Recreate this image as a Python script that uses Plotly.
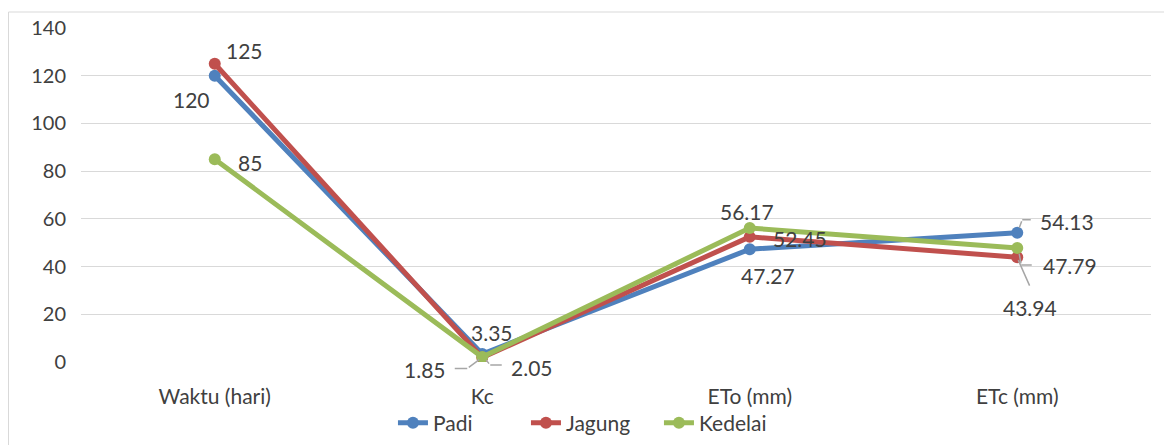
import plotly.graph_objects as go

categories = ["Waktu (hari)", "Kc", "ETo (mm)", "ETc (mm)"]
padi = [120, 3.35, 47.27, 54.13]
jagung = [125, 1.85, 52.45, 43.94]
kedelai = [85, 2.05, 56.17, 47.79]
y_ticks = [0, 20, 40, 60, 80, 100, 120, 140]

series = [
    ("Padi", padi, "#4F81BD"),
    ("Jagung", jagung, "#C0504D"),
    ("Kedelai", kedelai, "#9BBB59"),
]

# label offsets in pixels per point: (xshift, yshift, leader polyline in pixel offsets, y up)
label_style = {
    "Padi": [(-23, -24, None), (10, 22, None), (18, -26, None),
             (50, 11, [(2, 5), (5, 13), (15, 13)])],
    "Jagung": [(30, 13, None), (-57, -12, [(-3, -2), (-15, -11), (-29, -11)]),
               (50, -2, None), (13, -50, [(1, -3), (13, -30)])],
    "Kedelai": [(35, -3, None), (50, -10, [(4, -3), (8, -8), (21, -8)]),
                (-3, 16, None), (53, -18, [(2, -6), (4, -17), (16, -17)])],
}

FONT = "Lato, Open Sans, sans-serif"
TXT = "#404040"
FS = 21

# page body has an 8px default margin; figure sized to fit the window
W, H = 1164, 437
fig = go.Figure()
for name, vals, col in series:
    fig.add_trace(go.Scatter(
        x=categories, y=vals, name=name, mode="lines+markers",
        line=dict(color=col, width=5),
        marker=dict(color=col, size=12),
    ))

annotations = []
for name, vals, col in series:
    for i, v in enumerate(vals):
        xs, ys, poly = label_style[name][i]
        annotations.append(dict(x=categories[i], y=v, text=f"{v:g}", showarrow=False,
                                xshift=xs, yshift=ys,
                                font=dict(family=FONT, size=FS, color=TXT)))
        if poly:
            for (x0, y0), (x1, y1) in zip(poly[:-1], poly[1:]):
                annotations.append(dict(x=categories[i], y=v, text="", showarrow=True,
                                        arrowhead=0, arrowwidth=1.5, arrowcolor="#A6A6A6",
                                        standoff=0, startstandoff=0,
                                        xshift=x0, yshift=y0,
                                        ax=x1 - x0, ay=-(y1 - y0)))

ML, MR, MT, MB = 73, 21, 20, 83
pw = W - ML - MR
ph = H - MT - MB
shapes = [dict(type="rect", xref="paper", yref="paper",
               x0=(0.5 - ML) / pw, x1=(W + 20 - ML) / pw,
               y0=-(MB + 20) / ph, y1=(ph + MT - 4) / ph,
               line=dict(color="#D9D9D9", width=1), layer="below")]

fig.update_layout(
    width=W, height=H,
    margin=dict(l=ML, r=MR, t=MT, b=MB, autoexpand=False),
    paper_bgcolor="white", plot_bgcolor="white",
    font=dict(family=FONT, size=FS, color=TXT),
    showlegend=True,
    legend=dict(orientation="h", x=0.478, xanchor="center",
                yref="container", y=1 - (423 - 8) / H, yanchor="middle",
                bgcolor="rgba(0,0,0,0)", entrywidth=88,
                font=dict(family=FONT, size=FS, color=TXT), tracegroupgap=0),
    annotations=annotations,
    shapes=shapes,
)
fig.update_xaxes(type="category", range=[-0.5, 3.5], showgrid=False, showline=False,
                 zeroline=False, ticks="", ticklabelstandoff=20, automargin=False,
                 tickfont=dict(family=FONT, size=FS, color=TXT))
fig.update_yaxes(range=[0, 140], tickvals=y_ticks, showgrid=True, gridcolor="#D9D9D9",
                 gridwidth=1.3, zeroline=False, showline=False, ticks="", automargin=False,
                 ticklabelstandoff=14, tickfont=dict(family=FONT, size=20, color=TXT))

fig.write_html("out.html")
